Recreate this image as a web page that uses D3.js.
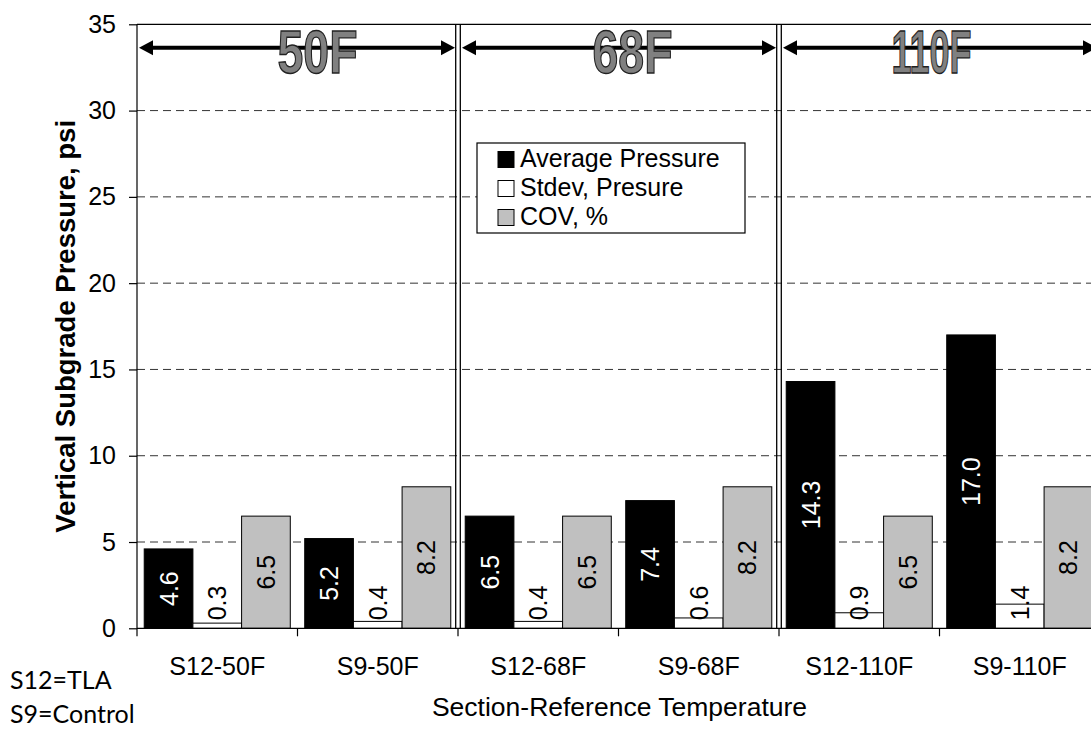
<!DOCTYPE html>
<html>
<head>
<meta charset="utf-8">
<script src="https://cdn.jsdelivr.net/npm/d3@7"></script>
<style>
  html, body { margin: 0; padding: 0; background: #fff; }
  svg { display: block; font-family: "Liberation Sans", Arial, sans-serif; }
</style>
</head>
<body>
<svg id="chart" width="1091" height="730"></svg>
<script>
// Section / temperature categories along the x axis
const categories = ["S12-50F", "S9-50F", "S12-68F", "S9-68F", "S12-110F", "S9-110F"];

// Series names (legend order) and their values, psi / %
const seriesNames = ["Average Pressure", "Stdev, Presure", "COV, %"];
const averagePressure = [4.6, 5.2, 6.5, 7.4, 14.3, 17.0];
const stdevPressure = [0.3, 0.4, 0.4, 0.6, 0.9, 1.4];
const covPercent = [6.5, 8.2, 6.5, 8.2, 6.5, 8.2];

// Y axis ticks
const yTicks = [0, 5, 10, 15, 20, 25, 30, 35];

// Temperature groups spanning pairs of categories
const tempGroups = ["50F", "68F", "110F"];
const tempGroupSpan = [[0, 2], [2, 4], [4, 6]];

// Section key notes
const sectionKey = ["S12=TLA", "S9=Control"];

// ---- layout ----
const plot = { left: 137, right: 1100, top: 24.3, bottom: 628.3 };
const fills = ["#000000", "#ffffff", "#c0c0c0"];
const labelColors = ["#ffffff", "#000000", "#000000"];
const tempLabelShift = [20, 14, -8];   // nudges of the big group titles, px
const fontSize = 25;

const svg = d3.select("#chart");

const y = d3.scaleLinear().domain([0, 35]).range([plot.bottom, plot.top]);
const x0 = d3.scaleBand().domain(categories).range([plot.left, plot.right])
  .paddingInner(0.09).paddingOuter(0.045);
const x1 = d3.scaleBand().domain(d3.range(seriesNames.length)).range([0, x0.bandwidth()]);
const step = x0.step();
const boundary = i => plot.left + i * step;   // category boundaries

const seriesValues = [averagePressure, stdevPressure, covPercent];

// ---- gridlines ----
svg.append("g")
  .selectAll("line")
  .data(yTicks.filter(t => t > 0 && t < 35))
  .join("line")
  .attr("x1", plot.left).attr("x2", plot.right)
  .attr("y1", d => y(d)).attr("y2", d => y(d))
  .attr("stroke", "#333").attr("stroke-width", 1)
  .attr("stroke-dasharray", "8,5");

// top border of the plot
svg.append("line")
  .attr("x1", plot.left).attr("x2", plot.right)
  .attr("y1", y(35)).attr("y2", y(35))
  .attr("stroke", "#000").attr("stroke-width", 1.2);

// ---- bars ----
const barData = [];
categories.forEach((c, ci) => {
  seriesValues.forEach((vals, si) => {
    barData.push({ cat: c, s: si, v: vals[ci] });
  });
});

svg.append("g")
  .selectAll("rect")
  .data(barData)
  .join("rect")
  .attr("x", d => x0(d.cat) + x1(d.s))
  .attr("y", d => y(d.v))
  .attr("width", x1.bandwidth())
  .attr("height", d => y(0) - y(d.v))
  .attr("fill", d => fills[d.s])
  .attr("stroke", "#000").attr("stroke-width", 1);

// ---- value labels (rotated, centered in bar, kept inside the plot) ----
const labels = svg.append("g")
  .selectAll("text")
  .data(barData)
  .join("text")
  .text(d => d.v.toFixed(1))
  .attr("font-size", fontSize)
  .attr("fill", d => labelColors[d.s])
  .attr("text-anchor", "middle");

labels.each(function (d) {
  const len = this.getComputedTextLength();
  const cx = x0(d.cat) + x1(d.s) + x1.bandwidth() / 2;
  let cy = (y(d.v) + y(0)) / 2;
  cy = Math.min(cy, y(0) - 8 - len / 2);
  d3.select(this)
    .attr("transform", `translate(${cx},${cy}) rotate(-90)`)
    .attr("dy", "0.36em");
});

// ---- temperature separators (double lines) ----
const sepIdx = [2, 4];
sepIdx.forEach(i => {
  [-2.3, 2.3].forEach(off => {
    svg.append("line")
      .attr("x1", boundary(i) + off).attr("x2", boundary(i) + off)
      .attr("y1", y(35)).attr("y2", y(0))
      .attr("stroke", "#000").attr("stroke-width", 1.3);
  });
});

// ---- axes ----
const yAxis = d3.axisLeft(y).tickValues(yTicks).tickSize(8).tickPadding(13);
const gy = svg.append("g").attr("transform", `translate(${plot.left},0)`).call(yAxis);
gy.select(".domain").remove();
gy.selectAll("line").attr("stroke", "#000").attr("stroke-width", 1.2);
gy.selectAll("text").attr("font-size", fontSize).attr("font-family", "Liberation Sans, Arial, sans-serif").attr("fill", "#000");

svg.append("line")
  .attr("x1", plot.left).attr("x2", plot.left)
  .attr("y1", y(35)).attr("y2", y(0))
  .attr("stroke", "#000").attr("stroke-width", 1.2);

svg.append("line")
  .attr("x1", plot.left).attr("x2", plot.right)
  .attr("y1", y(0)).attr("y2", y(0))
  .attr("stroke", "#000").attr("stroke-width", 1.2);

// category boundary ticks
svg.append("g")
  .selectAll("line")
  .data(d3.range(categories.length + 1))
  .join("line")
  .attr("x1", d => boundary(d)).attr("x2", d => boundary(d))
  .attr("y1", y(0)).attr("y2", y(0) + 8)
  .attr("stroke", "#000").attr("stroke-width", 1.2);

const xAxis = d3.axisBottom(x0).tickSize(0).tickPadding(29);
const gx = svg.append("g").attr("transform", `translate(0,${y(0)})`).call(xAxis);
gx.select(".domain").remove();
gx.selectAll("text").attr("font-size", fontSize).attr("font-family", "Liberation Sans, Arial, sans-serif").attr("fill", "#000");

// axis titles
svg.append("text")
  .attr("transform", `translate(75,${(plot.top + plot.bottom) / 2}) rotate(-90)`)
  .attr("text-anchor", "middle")
  .attr("font-size", 27.5).attr("font-weight", "bold")
  .text("Vertical Subgrade Pressure, psi");

svg.append("text")
  .attr("x", (plot.left + plot.right) / 2 + 1)
  .attr("y", 716)
  .attr("text-anchor", "middle")
  .attr("font-size", 26.5)
  .text("Section-Reference Temperature");

// ---- temperature group arrows and titles ----
const arrowLen = 14, arrowHalf = 7.5, arrowY = 47.7;
tempGroups.forEach((g, gi) => {
  const [a, b] = tempGroupSpan[gi];
  const xl = boundary(a) + (a === 0 ? 2 : 4);
  const xr = boundary(b) - 3;
  svg.append("line")
    .attr("x1", xl + arrowLen - 1).attr("x2", xr - arrowLen + 1)
    .attr("y1", arrowY).attr("y2", arrowY)
    .attr("stroke", "#000").attr("stroke-width", 4);
  svg.append("path")
    .attr("d", `M${xl},${arrowY} L${xl + arrowLen},${arrowY - arrowHalf} L${xl + arrowLen},${arrowY + arrowHalf} Z`)
    .attr("fill", "#000");
  svg.append("path")
    .attr("d", `M${xr},${arrowY} L${xr - arrowLen},${arrowY - arrowHalf} L${xr - arrowLen},${arrowY + arrowHalf} Z`)
    .attr("fill", "#000");
  const cx = (boundary(a) + boundary(b)) / 2 + tempLabelShift[gi];
  svg.append("text")
    .attr("x", cx).attr("y", 73)
    .attr("text-anchor", "middle")
    .attr("font-family", "'Liberation Sans Narrow', 'Liberation Sans', Arial, sans-serif")
    .attr("font-weight", "bold")
    .attr("font-size", 62)
    .attr("textLength", 80)
    .attr("lengthAdjust", "spacingAndGlyphs")
    .attr("fill", "#808080")
    .attr("stroke", "#222").attr("stroke-width", 1.4)
    .text(g);
});

// ---- legend ----
const legend = svg.append("g").attr("transform", "translate(477,143)");
legend.append("rect")
  .attr("width", 268).attr("height", 90)
  .attr("fill", "#fff").attr("stroke", "#000").attr("stroke-width", 1.2);
seriesNames.forEach((name, i) => {
  const base = 24 + i * 29;
  legend.append("rect")
    .attr("x", 21).attr("y", base - 15.5)
    .attr("width", 16).attr("height", 16)
    .attr("fill", fills[i]).attr("stroke", "#000").attr("stroke-width", 1);
  legend.append("text")
    .attr("x", 43).attr("y", base)
    .attr("font-size", fontSize)
    .text(name);
});

// ---- section key ----
svg.append("g")
  .selectAll("text")
  .data(sectionKey)
  .join("text")
  .attr("x", 10)
  .attr("y", (d, i) => 689 + i * 34)
  .attr("font-family", "Lato, 'Open Sans', sans-serif")
  .attr("font-size", 25)
  .text(d => d);
</script>
</body>
</html>
